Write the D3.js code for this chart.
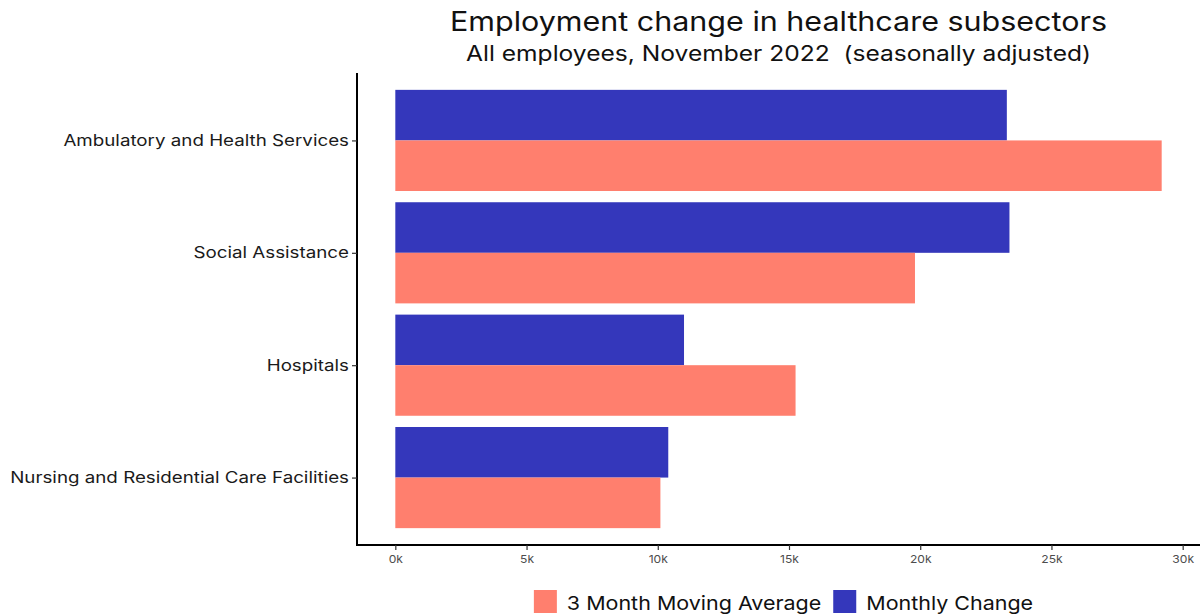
<!DOCTYPE html>
<html><head><meta charset="utf-8">
<script src="https://cdn.jsdelivr.net/npm/d3@7"></script>
<style>body{margin:0;background:#fff}svg{display:block}text{font-family:"Inter","Lato",sans-serif;white-space:pre}</style>
</head><body><svg id="c" width="1203" height="615"></svg>
<script>
const categories = ["Ambulatory and Health Services","Social Assistance","Hospitals","Nursing and Residential Care Facilities"];
const series = ["Monthly Change","3 Month Moving Average"];
const monthlyChange = [23300, 23400, 11000, 10400];
const movingAverage = [29200, 19800, 15250, 10100];
const xTicks = [0,5000,10000,15000,20000,25000,30000];
const legendOrder = ["3 Month Moving Average","Monthly Change"];
const colors = {"Monthly Change":"#3437bb","3 Month Moving Average":"#ff7f6e"};

(function(){
const svg = d3.select("#c");
const pL = 357, pR = 1200, pT = 73, pB = 545;
function stretch(sel, f){ sel.each(function(){ const w=this.getComputedTextLength(); d3.select(this).attr("textLength", w*f).attr("lengthAdjust","spacingAndGlyphs"); }); }
const maxV = d3.max([...monthlyChange, ...movingAverage]);
const x = d3.scaleLinear().domain([-maxV*0.05, maxV*1.05]).range([pL, pR]);
const step = (pB-pT)/(categories.length+0.2);
const yc = d3.scalePoint().domain(categories).range([pT+step*0.6, pB-step*0.6]);
const bw = step*0.9;
const sub = d3.scaleBand().domain(series).range([-bw/2, bw/2]);

const data = [];
categories.forEach((c,i)=>{
  data.push({cat:c, s:"Monthly Change", v:monthlyChange[i]});
  data.push({cat:c, s:"3 Month Moving Average", v:movingAverage[i]});
});
svg.append("g").selectAll("rect").data(data).join("rect")
  .attr("x", d=>x(0)).attr("width", d=>x(d.v)-x(0))
  .attr("y", d=>yc(d.cat)+sub(d.s)).attr("height", sub.bandwidth())
  .attr("fill", d=>colors[d.s]);

const xa = svg.append("g").attr("transform",`translate(0,${pB})`)
  .call(d3.axisBottom(x).tickValues(xTicks).tickFormat(d=>(d/1000)+"k").tickSize(5).tickSizeOuter(0));
xa.select(".domain").attr("stroke","#000").attr("stroke-width",2).attr("d",`M${pL-1},0H${pR}`);
xa.selectAll(".tick line").attr("stroke","#333").attr("stroke-width",1.2);
xa.selectAll(".tick text").attr("font-size",11).attr("fill","#4d4d4d").attr("dy","0.95em");
stretch(xa.selectAll(".tick text"), 1.1);

const ya = svg.append("g").attr("transform",`translate(${pL},0)`)
  .call(d3.axisLeft(yc).tickSize(5).tickSizeOuter(0).tickPadding(3));
ya.select(".domain").attr("stroke","#000").attr("stroke-width",2).attr("d",`M0,${pT}V${pB+1}`);
ya.selectAll(".tick line").attr("stroke","#333").attr("stroke-width",1.2);
ya.selectAll(".tick text").attr("font-size",15.5).attr("fill","#1a1a1a");
stretch(ya.selectAll(".tick text"), 1.21);

const cx = (pL+pR)/2;
const t1 = svg.append("text").attr("x",cx).attr("y",31).attr("text-anchor","middle").attr("font-size",26.5).attr("fill","#111").text("Employment change in healthcare subsectors");
stretch(t1, 1.15);
const t2 = svg.append("text").attr("x",cx).attr("y",61).attr("text-anchor","middle").attr("font-size",21).attr("fill","#111").text("All employees, November 2022  (seasonally adjusted)");
stretch(t2, 1.17);

const lg = svg.append("g");
let lx = 0;
legendOrder.forEach((s)=>{
  const g = lg.append("g").attr("transform",`translate(${lx},0)`);
  g.append("rect").attr("x",0).attr("y",590).attr("width",23).attr("height",23).attr("fill",colors[s]);
  const t = g.append("text").attr("x",33).attr("y",610).attr("font-size",19).attr("fill","#111").text(s);
  stretch(t, 1.13);
  const w = +t.attr("textLength");
  lx += 33 + w + 12;
});
const lgW = lx - 12;
lg.attr("transform",`translate(${cx - lgW/2 + 5},0)`);
})();
</script></body></html>
